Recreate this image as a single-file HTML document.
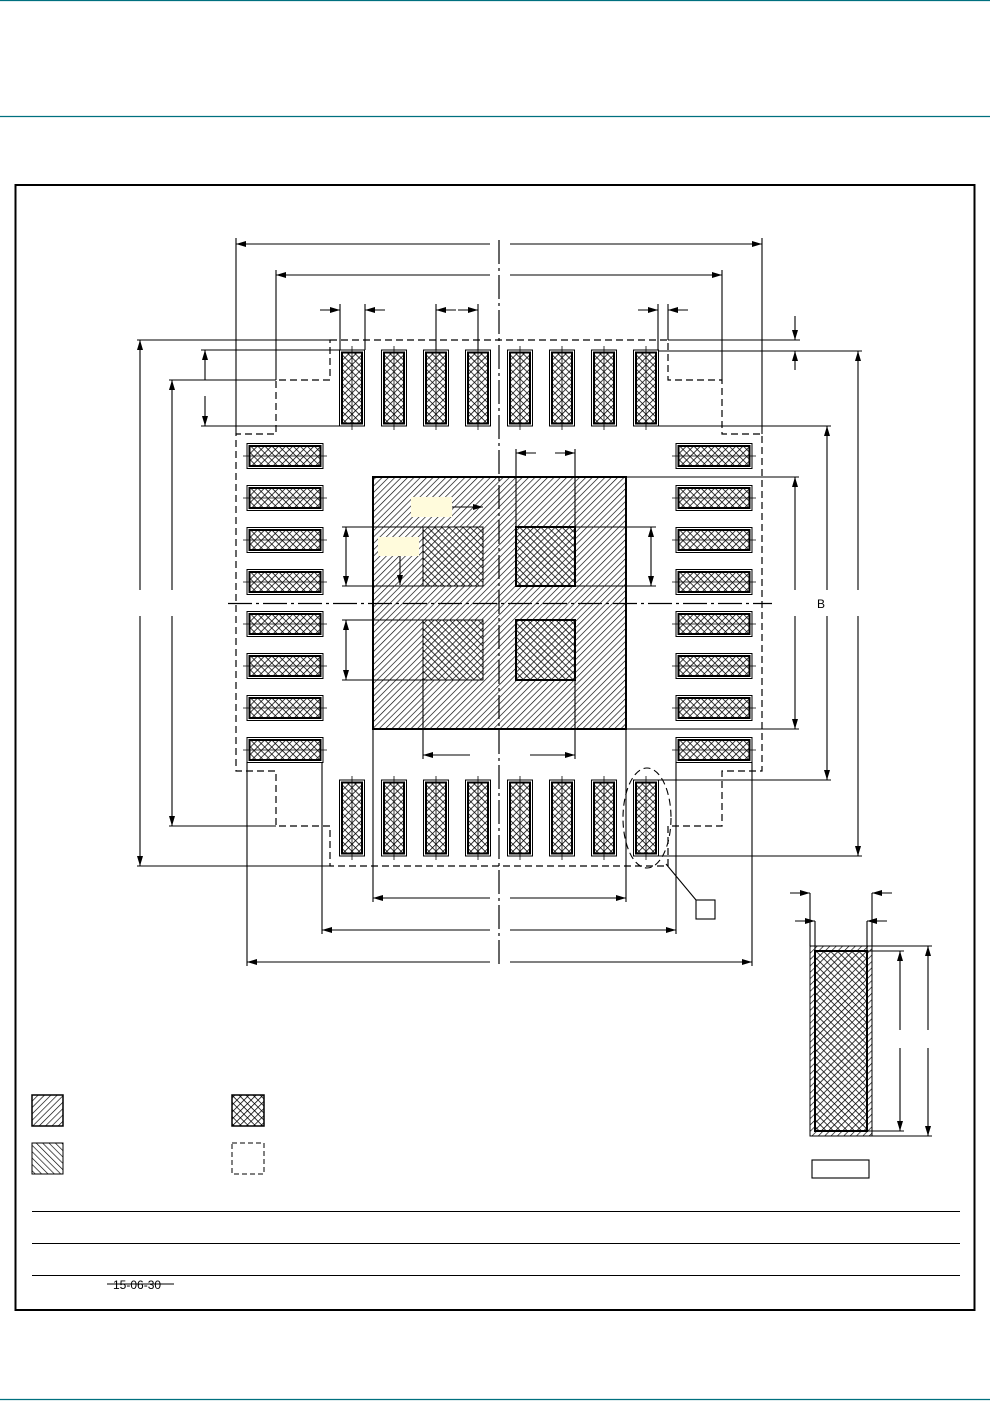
<!DOCTYPE html>
<html><head><meta charset="utf-8"><style>
html,body{margin:0;padding:0;background:#fff;}
svg{display:block;font-family:"Liberation Sans",sans-serif;}
</style></head><body>
<svg width="990" height="1401" viewBox="0 0 990 1401" xmlns="http://www.w3.org/2000/svg">
<defs>
<pattern id="h1" width="4.5" height="4.5" patternUnits="userSpaceOnUse" patternTransform="rotate(45)"><line x1="0" y1="0" x2="0" y2="4.5" stroke="#000" stroke-width="1.3"/></pattern>
<pattern id="h2" width="4.5" height="4.5" patternUnits="userSpaceOnUse" patternTransform="rotate(-45)"><line x1="0" y1="0" x2="0" y2="4.5" stroke="#000" stroke-width="1.3"/></pattern>
<pattern id="xh" width="5" height="5" patternUnits="userSpaceOnUse" patternTransform="rotate(45)"><rect width="5" height="5" fill="#fff"/><line x1="0" y1="0" x2="0" y2="5" stroke="#000" stroke-width="1.5"/><line x1="0" y1="0" x2="5" y2="0" stroke="#000" stroke-width="1.5"/></pattern>
<marker id="a" markerWidth="10" markerHeight="6" refX="10" refY="3" orient="auto-start-reverse" markerUnits="userSpaceOnUse"><path d="M0,0L10,3L0,6z" fill="#000"/></marker>
<g id="vp"><rect x="-12.5" y="0" width="25" height="76" fill="#fff" stroke="#000" stroke-width="1"/><rect x="-10" y="2.5" width="20" height="71" fill="url(#xh)" stroke="#000" stroke-width="2"/><line x1="0" y1="-4" x2="0" y2="80" stroke="#000" stroke-width="0.8"/></g>
<g id="hp"><rect x="0" y="-12.5" width="76" height="25" fill="#fff" stroke="#000" stroke-width="1"/><rect x="2.5" y="-10" width="71" height="20" fill="url(#xh)" stroke="#000" stroke-width="2"/><line x1="-4" y1="0" x2="80" y2="0" stroke="#000" stroke-width="0.8"/></g>
</defs>
<line x1="0" y1="0.5" x2="990" y2="0.5" stroke="#00707f" stroke-width="1.2"/>
<line x1="0" y1="116.5" x2="990" y2="116.5" stroke="#00707f" stroke-width="1.2"/>
<line x1="0" y1="1399.5" x2="990" y2="1399.5" stroke="#00707f" stroke-width="1.2"/>
<rect x="15.5" y="185" width="959" height="1125" fill="none" stroke="#000" stroke-width="2"/>

<polygon points="330,340 668,340 668,380 722,380 722,434 762,434 762,771 722,771 722,826 668,826 668,866 330,866 330,826 276,826 276,771 236,771 236,434 276,434 276,380 330,380" fill="none" stroke="#000" stroke-width="1.2" stroke-dasharray="7,4"/>

<rect x="373" y="477" width="253" height="252" fill="url(#h1)" stroke="#000" stroke-width="2"/>
<rect x="423" y="527" width="60" height="59" fill="url(#xh)" stroke="#000" stroke-width="1"/>
<rect x="516" y="527" width="59" height="59" fill="url(#xh)" stroke="#000" stroke-width="2"/>
<rect x="423" y="620" width="60" height="60" fill="url(#xh)" stroke="#000" stroke-width="1"/>
<rect x="516" y="620" width="59" height="60" fill="url(#xh)" stroke="#000" stroke-width="2"/>

<g>
<use href="#vp" x="352" y="350"/><use href="#vp" x="394" y="350"/><use href="#vp" x="436" y="350"/><use href="#vp" x="478" y="350"/><use href="#vp" x="520" y="350"/><use href="#vp" x="562" y="350"/><use href="#vp" x="604" y="350"/><use href="#vp" x="646" y="350"/>
<use href="#vp" x="352" y="780"/><use href="#vp" x="394" y="780"/><use href="#vp" x="436" y="780"/><use href="#vp" x="478" y="780"/><use href="#vp" x="520" y="780"/><use href="#vp" x="562" y="780"/><use href="#vp" x="604" y="780"/><use href="#vp" x="646" y="780"/>
<use href="#hp" x="247" y="456"/><use href="#hp" x="247" y="498"/><use href="#hp" x="247" y="540"/><use href="#hp" x="247" y="582"/><use href="#hp" x="247" y="624"/><use href="#hp" x="247" y="666"/><use href="#hp" x="247" y="708"/><use href="#hp" x="247" y="750"/>
<use href="#hp" x="676" y="456"/><use href="#hp" x="676" y="498"/><use href="#hp" x="676" y="540"/><use href="#hp" x="676" y="582"/><use href="#hp" x="676" y="624"/><use href="#hp" x="676" y="666"/><use href="#hp" x="676" y="708"/><use href="#hp" x="676" y="750"/>
</g>

<line x1="499" y1="240" x2="499" y2="965" stroke="#000" stroke-width="1.2" stroke-dasharray="24,4,3,4"/>
<line x1="228" y1="603.5" x2="772" y2="603.5" stroke="#000" stroke-width="1.2" stroke-dasharray="24,4,3,4"/>

<g stroke="#000" stroke-width="1.1" fill="none">
<line x1="236" y1="238" x2="236" y2="434"/><line x1="762" y1="238" x2="762" y2="434"/>
<line x1="236" y1="244" x2="490" y2="244" marker-start="url(#a)"/><line x1="510" y1="244" x2="762" y2="244" marker-end="url(#a)"/>
<line x1="276" y1="270" x2="276" y2="380"/><line x1="722" y1="270" x2="722" y2="380"/>
<line x1="276" y1="275" x2="490" y2="275" marker-start="url(#a)"/><line x1="510" y1="275" x2="722" y2="275" marker-end="url(#a)"/>
<line x1="340" y1="304" x2="340" y2="350"/><line x1="365" y1="304" x2="365" y2="350"/>
<line x1="320" y1="310" x2="340" y2="310" marker-end="url(#a)"/><line x1="385" y1="310" x2="365" y2="310" marker-end="url(#a)"/>
<line x1="436" y1="304" x2="436" y2="350"/><line x1="478" y1="304" x2="478" y2="350"/>
<line x1="456" y1="310" x2="436" y2="310" marker-end="url(#a)"/><line x1="458" y1="310" x2="478" y2="310" marker-end="url(#a)"/>
<line x1="658" y1="304" x2="658" y2="350"/><line x1="668" y1="304" x2="668" y2="340"/>
<line x1="638" y1="310" x2="658" y2="310" marker-end="url(#a)"/><line x1="688" y1="310" x2="668" y2="310" marker-end="url(#a)"/>
<line x1="137" y1="340" x2="330" y2="340"/><line x1="137" y1="866" x2="330" y2="866"/>
<line x1="140" y1="340" x2="140" y2="590" marker-start="url(#a)"/><line x1="140" y1="616" x2="140" y2="866" marker-end="url(#a)"/>
<line x1="169" y1="380" x2="276" y2="380"/><line x1="169" y1="826" x2="276" y2="826"/>
<line x1="172" y1="380" x2="172" y2="590" marker-start="url(#a)"/><line x1="172" y1="616" x2="172" y2="826" marker-end="url(#a)"/>
<line x1="201" y1="350" x2="340" y2="350"/><line x1="201" y1="426" x2="340" y2="426"/>
<line x1="205" y1="350" x2="205" y2="380" marker-start="url(#a)"/><line x1="205" y1="396" x2="205" y2="426" marker-end="url(#a)"/>
<line x1="668" y1="340" x2="800" y2="340"/><line x1="658" y1="351" x2="862" y2="351"/>
<line x1="795" y1="316" x2="795" y2="340" marker-end="url(#a)"/><line x1="795" y1="370" x2="795" y2="351" marker-end="url(#a)"/>
<line x1="658" y1="856" x2="862" y2="856"/>
<line x1="858" y1="351" x2="858" y2="590" marker-start="url(#a)"/><line x1="858" y1="616" x2="858" y2="856" marker-end="url(#a)"/>
<line x1="658" y1="426" x2="831" y2="426"/><line x1="658" y1="780" x2="831" y2="780"/>
<line x1="827" y1="426" x2="827" y2="590" marker-start="url(#a)"/><line x1="827" y1="616" x2="827" y2="780" marker-end="url(#a)"/>
<line x1="626" y1="477" x2="799" y2="477"/><line x1="626" y1="729" x2="799" y2="729"/>
<line x1="795" y1="477" x2="795" y2="590" marker-start="url(#a)"/><line x1="795" y1="616" x2="795" y2="729" marker-end="url(#a)"/>
<line x1="373" y1="729" x2="373" y2="902"/><line x1="626" y1="729" x2="626" y2="902"/>
<line x1="373" y1="898" x2="490" y2="898" marker-start="url(#a)"/><line x1="510" y1="898" x2="626" y2="898" marker-end="url(#a)"/>
<line x1="322" y1="762" x2="322" y2="934"/><line x1="676" y1="762" x2="676" y2="934"/>
<line x1="322" y1="930" x2="490" y2="930" marker-start="url(#a)"/><line x1="510" y1="930" x2="676" y2="930" marker-end="url(#a)"/>
<line x1="247" y1="762" x2="247" y2="966"/><line x1="752" y1="762" x2="752" y2="966"/>
<line x1="247" y1="962" x2="490" y2="962" marker-start="url(#a)"/><line x1="510" y1="962" x2="752" y2="962" marker-end="url(#a)"/>
<line x1="342" y1="527" x2="423" y2="527"/><line x1="342" y1="586" x2="423" y2="586"/>
<line x1="342" y1="620" x2="423" y2="620"/><line x1="342" y1="680" x2="423" y2="680"/>
<line x1="346" y1="527" x2="346" y2="586" marker-start="url(#a)" marker-end="url(#a)"/>
<line x1="346" y1="620" x2="346" y2="680" marker-start="url(#a)" marker-end="url(#a)"/>
<line x1="575" y1="527" x2="656" y2="527"/><line x1="575" y1="586" x2="656" y2="586"/>
<line x1="651" y1="527" x2="651" y2="586" marker-start="url(#a)" marker-end="url(#a)"/>
<line x1="516" y1="449" x2="516" y2="527"/><line x1="575" y1="449" x2="575" y2="527"/>
<line x1="516" y1="453" x2="536" y2="453" marker-start="url(#a)"/><line x1="555" y1="453" x2="575" y2="453" marker-end="url(#a)"/>
<line x1="423" y1="680" x2="423" y2="759"/><line x1="575" y1="680" x2="575" y2="759"/>
<line x1="423" y1="755" x2="470" y2="755" marker-start="url(#a)"/><line x1="530" y1="755" x2="575" y2="755" marker-end="url(#a)"/>
<line x1="452" y1="507" x2="483" y2="507" marker-end="url(#a)"/>
<line x1="400" y1="556" x2="400" y2="585" marker-end="url(#a)"/>
<ellipse cx="647" cy="818" rx="24" ry="50" stroke-dasharray="7,4"/>
<line x1="666" y1="864" x2="696" y2="900"/>
<rect x="696" y="900" width="19" height="19"/>
<line x1="810" y1="893" x2="810" y2="946"/><line x1="872" y1="893" x2="872" y2="946"/>
<line x1="790" y1="893" x2="810" y2="893" marker-end="url(#a)"/><line x1="892" y1="893" x2="872" y2="893" marker-end="url(#a)"/>
<line x1="815" y1="921" x2="815" y2="951"/><line x1="867" y1="921" x2="867" y2="951"/>
<line x1="795" y1="921" x2="815" y2="921" marker-end="url(#a)"/><line x1="887" y1="921" x2="867" y2="921" marker-end="url(#a)"/>
<line x1="872" y1="946" x2="932" y2="946"/><line x1="872" y1="1136" x2="932" y2="1136"/>
<line x1="867" y1="951" x2="904" y2="951"/><line x1="867" y1="1131" x2="904" y2="1131"/>
<line x1="900" y1="951" x2="900" y2="1030" marker-start="url(#a)"/><line x1="900" y1="1048" x2="900" y2="1131" marker-end="url(#a)"/>
<line x1="928" y1="946" x2="928" y2="1030" marker-start="url(#a)"/><line x1="928" y1="1048" x2="928" y2="1136" marker-end="url(#a)"/>
<rect x="812" y="1160" width="57" height="18"/>
<line x1="32" y1="1211.5" x2="960" y2="1211.5"/>
<line x1="32" y1="1243.5" x2="960" y2="1243.5"/>
<line x1="32" y1="1275.5" x2="960" y2="1275.5"/>
<line x1="107" y1="1284" x2="174" y2="1284"/>
</g>
<rect x="411" y="497" width="41" height="20" fill="#fffbdc"/>
<rect x="378" y="537" width="41" height="19" fill="#fffbdc"/>
<text x="817" y="608" font-size="12">B</text>
<rect x="810" y="946" width="62" height="190" fill="url(#h1)" stroke="#000" stroke-width="1"/>
<rect x="815" y="951" width="52" height="180" fill="url(#xh)" stroke="#000" stroke-width="2"/>
<rect x="32" y="1095" width="31" height="31" fill="url(#h1)" stroke="#000" stroke-width="1.5"/>
<rect x="32" y="1143" width="31" height="31" fill="url(#h2)" stroke="#000" stroke-width="1"/>
<rect x="232" y="1095" width="32" height="31" fill="url(#xh)" stroke="#000" stroke-width="1.5"/>
<rect x="232" y="1143" width="32" height="31" fill="none" stroke="#000" stroke-width="1" stroke-dasharray="5,3"/>
<text x="113" y="1289" font-size="12">15-06-30</text>
</svg>
</body></html>
